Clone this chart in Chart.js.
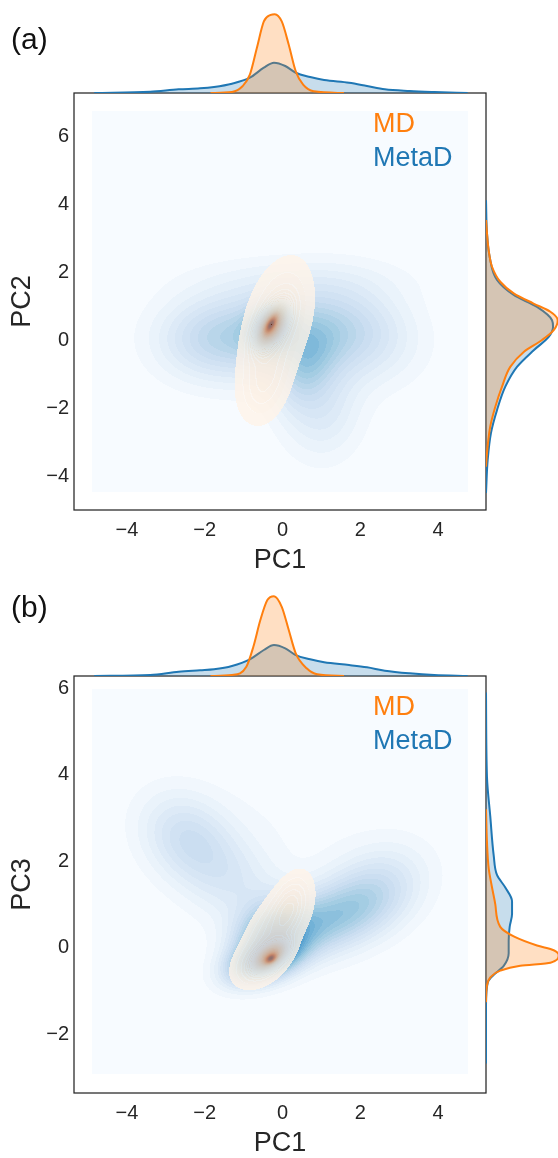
<!DOCTYPE html>
<html>
<head>
<meta charset="utf-8">
<title>PC projections: MD vs MetaD</title>
<script src="https://cdn.jsdelivr.net/npm/chart.js@4.4.1/dist/chart.umd.min.js"></script>
<style>
  body { margin: 0; background: #fff; }
  #page { position: relative; width: 558px; height: 1158px; overflow: hidden;
          font-family: 'Liberation Sans', Arial, sans-serif; }
  canvas { position: absolute; }
  .tag { position: absolute; left: 11px; font-size: 30px; color: #111; line-height: 1; }
</style>
</head>
<body>
<div id="page">
  <canvas id="main-a" width="558" height="590" style="left:0;top:0"></canvas>
  <canvas id="top-a" width="558" height="100" style="left:0;top:0"></canvas>
  <canvas id="right-a" width="78" height="590" style="left:480px;top:0"></canvas>

  <canvas id="main-b" width="558" height="580" style="left:0;top:590px"></canvas>
  <canvas id="top-b" width="558" height="100" style="left:0;top:583px"></canvas>
  <canvas id="right-b" width="78" height="580" style="left:480px;top:590px"></canvas>

  <div class="tag" style="top:24px">(a)</div>
  <div class="tag" style="top:592px">(b)</div>
</div>
<script>
'use strict';

// ************** Axis ranges and ticks ***************

const pc1Range = [-5.36, 5.23];
const pc2Range = [-4.97, 7.27];
const pc3Range = [-3.36, 6.28];
const pc1Ticks = [-4, -2, 0, 2, 4];
const pc2Ticks = [-4, -2, 0, 2, 4, 6];
const pc3Ticks = [-2, 0, 2, 4, 6];

// KDE evaluation grid for the MetaD fill: [x0, x1, y0, y1]
const gridA = [-4.89, 4.76, -4.44, 6.73];
const gridB = [-4.89, 4.76, -2.92, 5.97];

// ************** 2D densities: [meanX, meanY, sdX, sdY, rho, weight] ***************

const metadKernelsA = [
  [-0.3, 0.4, 0.35, 0.45, 0.2, 0.10],
  [0.0, 0.2, 1.5, 0.9, 0.0, 0.45],
  [-2.0, 0.0, 0.9, 0.8, 0.0, 0.10],
  [2.0, 0.3, 1.0, 1.0, -0.2, 0.12],
  [1.0, -2.0, 0.7, 1.0, 0.0, 0.10],
  [0.6, -0.8, 0.5, 0.8, 0.3, 0.06],
  [0.5, 1.8, 2.0, 0.5, 0.0, 0.05]
];
const mdKernelsA = [
  [-0.30, 0.47, 0.09, 0.15, 0.6, 0.10],
  [-0.28, 0.45, 0.24, 0.40, 0.55, 0.45],
  [-0.12, 0.60, 0.55, 1.10, 0.35, 0.50],
  [-0.50, -1.30, 0.42, 0.75, 0.2, 0.20]
];
const metadKernelsB = [
  [-0.5, -0.3, 0.6, 0.35, 0.4, 0.12],
  [0.9, 0.55, 1.1, 0.6, 0.45, 0.19],
  [-0.3, 0.3, 0.6, 0.5, 0.2, 0.12],
  [2.3, 1.3, 0.9, 0.7, 0.3, 0.12],
  [-2.5, 2.6, 0.8, 0.7, -0.2, 0.09],
  [-1.4, 1.6, 1.0, 0.8, -0.4, 0.10],
  [0.0, 3.0, 1.8, 1.0, 0.0, 0.04]
];
const mdKernelsB = [
  [-0.30, -0.25, 0.09, 0.07, 0.4, 0.10],
  [-0.30, -0.20, 0.24, 0.19, 0.5, 0.40],
  [-0.20, 0.40, 0.55, 0.65, 0.6, 0.45],
  [0.20, 1.00, 0.30, 0.45, 0.4, 0.15],
  [-0.60, -0.40, 0.40, 0.30, 0.3, 0.15]
];

// ************** Marginal densities ***************

// PC1 (top margins)
const metadPc1X = [-4.84, -3.40, -2.67, -2.12, -1.76, -1.30, -0.84, -0.48, -0.22, 0.07, 0.34, 0.71, 1.07, 1.71, 2.17, 2.63, 3.27, 3.90, 4.76];
const metadPc1A = [0, .013, .037, .047, .061, .094, .155, .256, .306, .273, .205, .162, .131, .104, .071, .037, .020, .010, 0];
const metadPc1B = [0, .010, .043, .058, .068, .101, .169, .263, .313, .280, .212, .169, .138, .111, .088, .054, .027, .010, 0];
const mdPc1XA = [-1.85, -1.30, -1.03, -0.84, -0.66, -0.48, -0.30, -0.20, -0.02, 0.16, 0.34, 0.53, 0.80, 1.58];
const mdPc1A = [0, .010, .068, .185, .455, .724, .791, .798, .724, .488, .219, .084, .017, 0];
const mdPc1XB = [-1.85, -1.30, -0.93, -0.75, -0.57, -0.39, -0.22, -0.02, 0.16, 0.34, 0.62, 0.89, 1.58];
const mdPc1B = [0, .010, .094, .296, .566, .768, .808, .700, .465, .229, .078, .017, 0];

// PC2 (right margin, panel a)
const metadPc2Y = [-4.47, -3.50, -2.71, -2.04, -1.35, -0.77, -0.28, 0.11, 0.41, 0.60, 0.99, 1.34, 1.78, 2.46, 3.16, 4.12];
const metadPc2 = [0, .017, .050, .111, .195, .313, .482, .633, .677, .667, .515, .280, .111, .037, .010, 0];
const mdPc2Y = [-3.70, -3.30, -2.52, -1.94, -1.35, -0.77, -0.33, 0.02, 0.31, 0.60, 0.85, 1.09, 1.39, 1.73, 2.17, 2.66, 3.54];
const mdPc2 = [0, .010, .043, .094, .162, .245, .381, .566, .684, .724, .650, .480, .280, .144, .061, .027, 0];

// PC3 (right margin, panel b)
const metadPc3Y = [-2.68, -1.33, -0.81, -0.63, -0.42, -0.13, 0.16, 0.48, 0.78, 1.07, 1.39, 1.68, 2.13, 3.04, 3.94, 5.90];
const metadPc3 = [0, 0, .017, .078, .179, .229, .229, .239, .263, .263, .195, .111, .078, .043, .010, 0];
const mdPc3Y = [-1.26, -0.87, -0.69, -0.53, -0.42, -0.35, -0.17, -0.06, 0.05, 0.26, 0.48, 1.00, 1.39, 1.84, 2.43, 3.20];
const mdPc3 = [0, .010, .043, .144, .346, .650, .734, .684, .515, .280, .144, .094, .061, .027, .010, 0];

// ************** Styles ***************

const mdColor = '#ff7f0e';
const metadColor = '#1f77b4';
const mdFill = 'rgba(255, 127, 14, 0.25)';
const metadFill = 'rgba(31, 119, 180, 0.25)';
const ink = '#262626';
const fontFamily = "'Liberation Sans', Arial, sans-serif";

const bluesStops = ['#f7fbff', '#deebf7', '#c6dbef', '#9ecae1', '#6baed6', '#4292c6', '#2171b5', '#08519c', '#08306b'];
const orangesStops = ['#fff5eb', '#fee6ce', '#fdd0a2', '#fdae6b', '#fd8d3c', '#f16913', '#d94801', '#a63603', '#7f2704'];

// ************** Helper Functions ***************

function hexToRgb(hex) {
  let n = parseInt(hex.slice(1), 16);
  return [(n >> 16) & 255, (n >> 8) & 255, n & 255];
}

let blues = bluesStops.map(hexToRgb);
let oranges = orangesStops.map(hexToRgb);

function ramp(stops, t) {
  let p = Math.min(Math.max(t, 0), 1) * (stops.length - 1);
  let i = Math.min(Math.floor(p), stops.length - 2);
  let f = p - i;
  let a = stops[i];
  let b = stops[i + 1];
  return [a[0] + (b[0] - a[0]) * f, a[1] + (b[1] - a[1]) * f, a[2] + (b[2] - a[2]) * f];
}

function mixtureAt(kernels, x, y) {
  let sum = 0;
  for (let k of kernels) {
    let dx = (x - k[0]) / k[2];
    let dy = (y - k[1]) / k[3];
    let r = k[4];
    let q = (dx * dx - 2 * r * dx * dy + dy * dy) / (1 - r * r);
    sum += k[5] * Math.exp(-q / 2) / (2 * Math.PI * k[2] * k[3] * Math.sqrt(1 - r * r));
  }
  return sum;
}

function pairs(xs, ys) {
  return xs.map((x, i) => ({ x: x, y: ys[i] }));
}

function fmtTick(value) {
  return value < 0 ? '\u2212' + Math.abs(value) : String(value);
}

function fixedTicks(values) {
  return function (axis) {
    axis.ticks = values.map(v => ({ value: v }));
  };
}

// ************** Plugins ***************

// filled KDE contours: MetaD with Blues, MD with Oranges on top
function densityLayer(metad, md, grid) {
  return {
    id: 'densityLayer',
    beforeDatasetsDraw(chart) {
      let area = chart.chartArea;
      let xs = chart.scales.x;
      let ys = chart.scales.y;
      let w = Math.round(area.right - area.left);
      let h = Math.round(area.bottom - area.top);
      let blue = new Float64Array(w * h);
      let orange = new Float64Array(w * h);
      let bMax = 0;
      let oMax = 0;

      for (let j = 0; j < h; j++) {
        let y = ys.getValueForPixel(area.top + j + 0.5);
        for (let i = 0; i < w; i++) {
          let x = xs.getValueForPixel(area.left + i + 0.5);
          let n = j * w + i;
          let inGrid = x >= grid[0] && x <= grid[1] && y >= grid[2] && y <= grid[3];
          blue[n] = inGrid ? mixtureAt(metad, x, y) : -1;
          orange[n] = inGrid ? mixtureAt(md, x, y) : 0;
          if (blue[n] > bMax) bMax = blue[n];
          if (orange[n] > oMax) oMax = orange[n];
        }
      }

      let nBlue = 32;
      let nOrange = 80;
      let oLevel = new Int16Array(w * h);
      for (let n = 0; n < w * h; n++) {
        oLevel[n] = Math.min(nOrange - 1, Math.floor(orange[n] / oMax * nOrange));
      }

      let off = document.createElement('canvas');
      off.width = w;
      off.height = h;
      let octx = off.getContext('2d');
      let img = octx.createImageData(w, h);
      let px = img.data;

      for (let j = 0; j < h; j++) {
        for (let i = 0; i < w; i++) {
          let n = j * w + i;
          if (blue[n] < 0) continue;
          let bl = Math.min(nBlue - 1, Math.floor(blue[n] / bMax * nBlue));
          let c = ramp(blues, bl / (nBlue - 1));
          let ol = oLevel[n];
          if (ol > 0) {
            let oc = ramp(oranges, ol / (nOrange - 1));
            let a = 0.8;
            let seam = (i > 0 && oLevel[n - 1] !== ol) || (j > 0 && oLevel[n - w] !== ol);
            if (seam && ol > 1) {
              oc = [oc[0] + (255 - oc[0]) * 0.4, oc[1] + (255 - oc[1]) * 0.4, oc[2] + (255 - oc[2]) * 0.4];
            }
            c = [oc[0] * a + c[0] * (1 - a), oc[1] * a + c[1] * (1 - a), oc[2] * a + c[2] * (1 - a)];
          }
          px[n * 4] = c[0];
          px[n * 4 + 1] = c[1];
          px[n * 4 + 2] = c[2];
          px[n * 4 + 3] = 255;
        }
      }
      octx.putImageData(img, 0, 0);
      chart.ctx.drawImage(off, area.left, area.top);
    }
  };
}

let frame = {
  id: 'frame',
  afterDraw(chart) {
    let { ctx, chartArea: a } = chart;
    ctx.save();
    ctx.strokeStyle = ink;
    ctx.lineWidth = 1.25;
    ctx.strokeRect(a.left, a.top, a.right - a.left, a.bottom - a.top);
    ctx.restore();
  }
};

// legend text inside the top right corner of the joint axes
let insideLegend = {
  id: 'insideLegend',
  afterDraw(chart) {
    let { ctx, chartArea: a } = chart;
    ctx.save();
    ctx.font = '27px ' + fontFamily;
    ctx.textBaseline = 'alphabetic';
    ctx.textAlign = 'left';
    chart.data.datasets.forEach((ds, i) => {
      ctx.fillStyle = ds.borderColor;
      ctx.fillText(ds.label, a.right - 113, a.top + 39 + i * 34);
    });
    ctx.restore();
  }
};

// ************** Chart builders ***************

function jointChart(id, opts) {
  return new Chart(document.getElementById(id), {
    type: 'scatter',
    data: {
      datasets: [
        { label: 'MD', data: [], borderColor: mdColor, backgroundColor: mdColor },
        { label: 'MetaD', data: [], borderColor: metadColor, backgroundColor: metadColor }
      ]
    },
    options: {
      responsive: false,
      animation: false,
      layout: { padding: { top: opts.top, right: 72, bottom: 0, left: 0 } },
      plugins: { legend: { display: false }, tooltip: { enabled: false } },
      scales: {
        x: {
          type: 'linear',
          min: pc1Range[0],
          max: pc1Range[1],
          afterBuildTicks: fixedTicks(pc1Ticks),
          afterFit: function (s) { s.height = opts.xHeight; },
          grid: { display: false, drawTicks: false },
          border: { display: false },
          ticks: { padding: 8, color: ink, font: { family: fontFamily, size: 20 }, callback: fmtTick },
          title: { display: true, text: 'PC1', color: ink, font: { family: fontFamily, size: 27 }, padding: { top: 0, bottom: opts.titlePad } }
        },
        y: {
          type: 'linear',
          min: opts.yRange[0],
          max: opts.yRange[1],
          afterBuildTicks: fixedTicks(opts.yTicks),
          afterFit: function (s) { s.width = 74; },
          grid: { display: false, drawTicks: false },
          border: { display: false },
          ticks: { padding: 5, color: ink, font: { family: fontFamily, size: 20 }, callback: fmtTick },
          title: { display: true, text: opts.yTitle, color: ink, font: { family: fontFamily, size: 27 }, padding: { top: 6, bottom: 0 } }
        }
      }
    },
    plugins: [densityLayer(opts.metad, opts.md, opts.grid), frame, insideLegend]
  });
}

function curveSet(label, data, line, fill) {
  return {
    label: label,
    data: data,
    borderColor: line,
    backgroundColor: fill,
    fill: 'origin',
    borderWidth: 2,
    pointRadius: 0,
    cubicInterpolationMode: 'monotone'
  };
}

function topMargin(id, md, metad) {
  return new Chart(document.getElementById(id), {
    type: 'line',
    data: { datasets: [curveSet('MD', md, mdColor, mdFill), curveSet('MetaD', metad, metadColor, metadFill)] },
    options: {
      responsive: false,
      animation: false,
      layout: { padding: { top: 8, right: 72, bottom: 7, left: 74 } },
      plugins: { legend: { display: false }, tooltip: { enabled: false } },
      scales: {
        x: { type: 'linear', display: false, min: pc1Range[0], max: pc1Range[1] },
        y: { type: 'linear', display: false, min: 0, max: 0.86 }
      }
    }
  });
}

function rightMargin(id, md, metad, range, top, bottom) {
  return new Chart(document.getElementById(id), {
    type: 'line',
    data: { datasets: [curveSet('MD', md, mdColor, mdFill), curveSet('MetaD', metad, metadColor, metadFill)] },
    options: {
      indexAxis: 'y',
      responsive: false,
      animation: false,
      layout: { padding: { top: top, right: 0, bottom: bottom, left: 6 } },
      plugins: { legend: { display: false }, tooltip: { enabled: false } },
      scales: {
        x: { type: 'linear', display: false, min: 0, max: 0.727 },
        y: { type: 'linear', display: false, min: range[0], max: range[1] }
      }
    }
  });
}

// ************** Executable Code ***************

jointChart('main-a', {
  top: 93, xHeight: 80, titlePad: 13,
  yRange: pc2Range, yTicks: pc2Ticks, yTitle: 'PC2',
  metad: metadKernelsA, md: mdKernelsA, grid: gridA
});
topMargin('top-a', pairs(mdPc1XA, mdPc1A), pairs(metadPc1X, metadPc1A));
rightMargin('right-a', pairs(mdPc2, mdPc2Y), pairs(metadPc2, metadPc2Y), pc2Range, 93, 80);

// panel b: joint box spans 676..1093 on the page
jointChart('main-b', {
  top: 86, xHeight: 77, titlePad: 10,
  yRange: pc3Range, yTicks: pc3Ticks, yTitle: 'PC3',
  metad: metadKernelsB, md: mdKernelsB, grid: gridB
});
topMargin('top-b', pairs(mdPc1XB, mdPc1B), pairs(metadPc1X, metadPc1B));
rightMargin('right-b', pairs(mdPc3, mdPc3Y), pairs(metadPc3, metadPc3Y), pc3Range, 86, 77);
</script>
</body>
</html>
